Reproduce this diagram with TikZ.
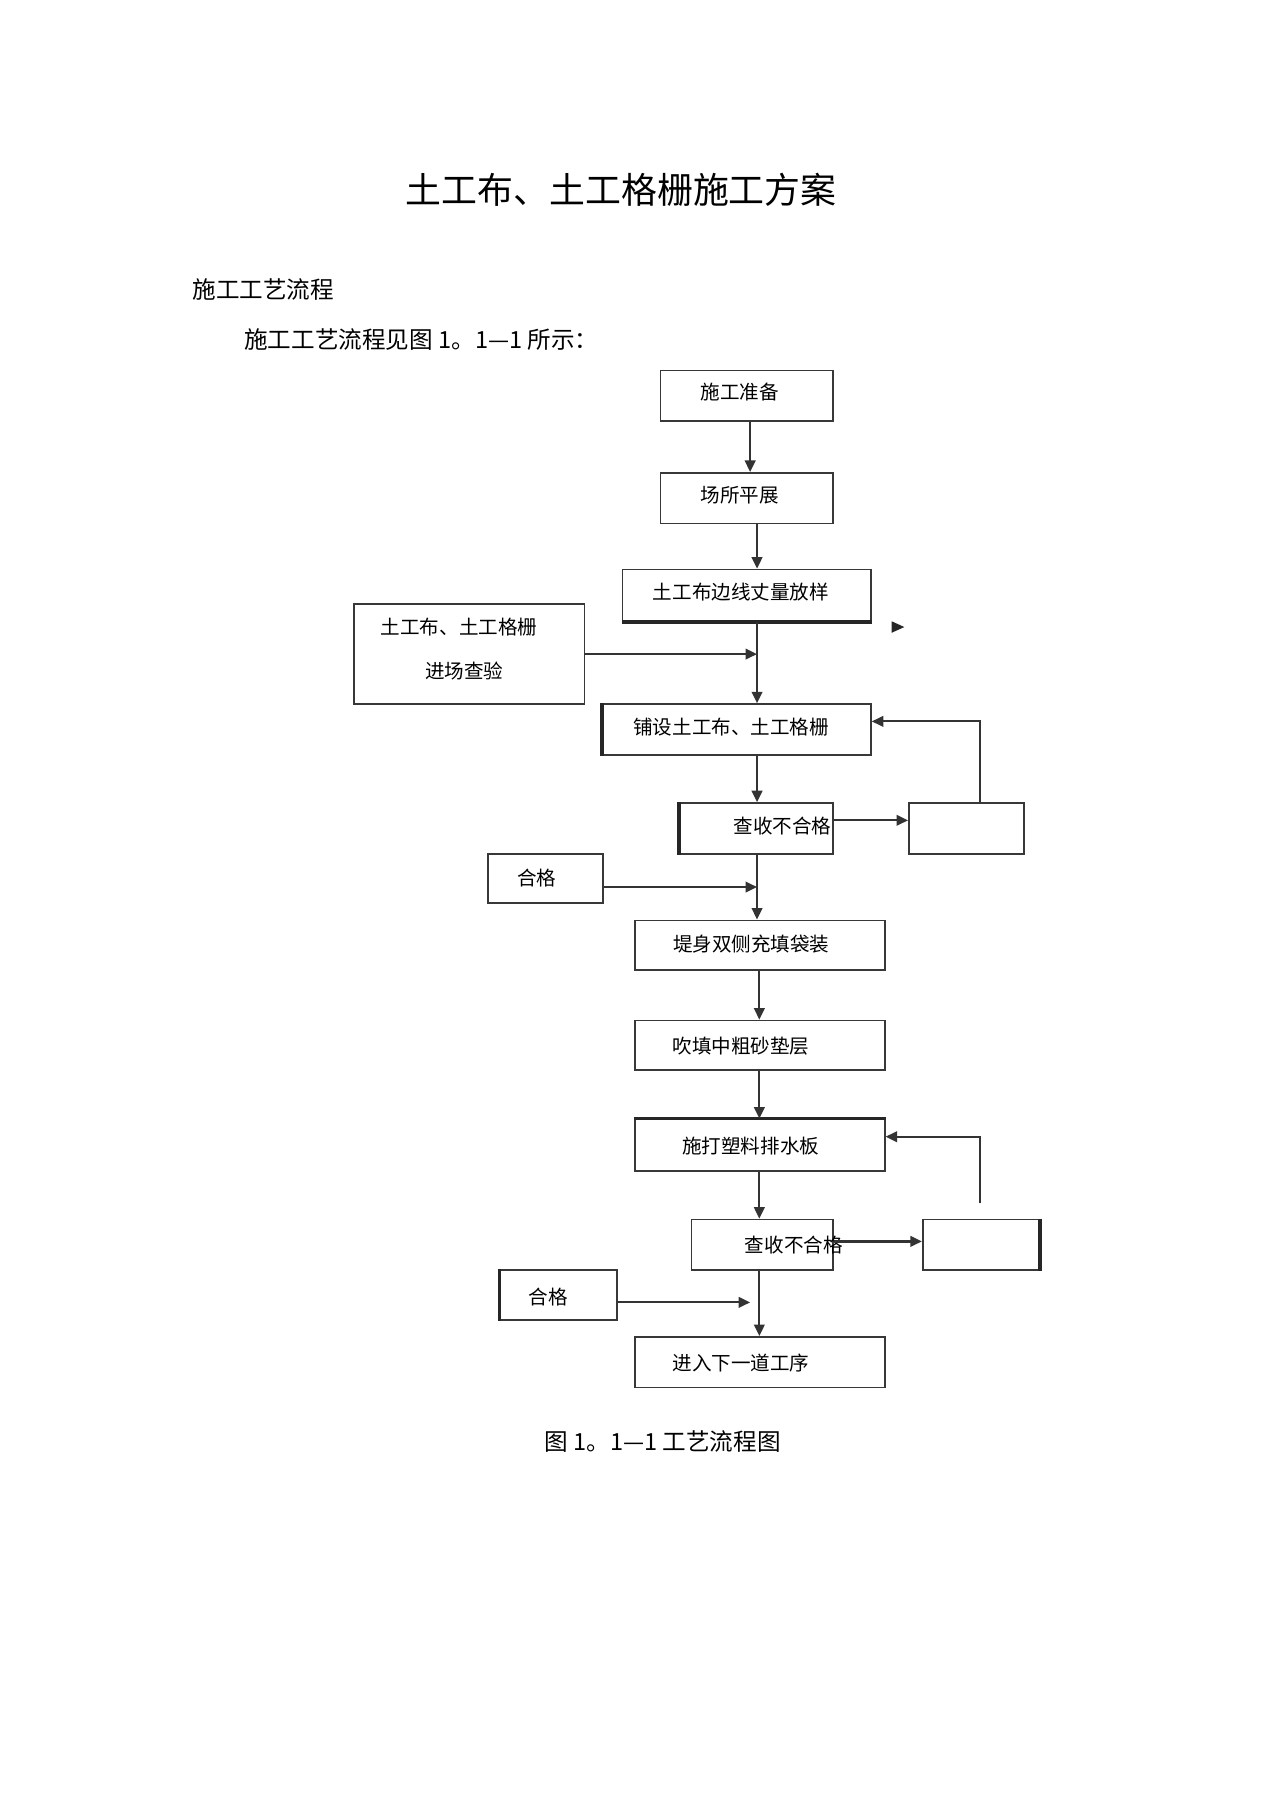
\documentclass[tikz,border=0pt]{standalone}
\usepackage{fontspec}
\setmainfont{Noto Sans CJK SC}
\usetikzlibrary{arrows.meta,calc}
\begin{document}
\begin{tikzpicture}[x=0.5pt,y=-0.5pt,
  fbox/.style={draw=black!78,line width=0.75pt,inner sep=0pt,rectangle},
  btxt/.style={inner sep=0pt,font=\fontsize{8.5}{10}\selectfont},
  arr/.style={draw=black!80,line width=0.95pt,-{Triangle[length=5pt,width=4.6pt]}},
  thk/.style={draw=black!85,line width=1.5pt}]
\useasboundingbox[fill=white] (0,0) rectangle (1107,1568);

% headings
\node[inner sep=0pt,font=\fontsize{15.6}{18}\selectfont] (title) at (540,165) {土工布、土工格栅施工方案};
\node[inner sep=0pt,anchor=west,font=\fontsize{10.25}{12}\selectfont] (head) at (167,252) {施工工艺流程};
\node[inner sep=0pt,anchor=west,font=\fontsize{10.25}{12}\selectfont] (intro) at (212,295) {施工工艺流程见图 1。1—1 所示：};
\node[inner sep=0pt,anchor=west,font=\fontsize{10.25}{12}\selectfont] (cap) at (473,1253) {图 1。1—1 工艺流程图};

% boxes
\node[fbox,minimum width=75pt,minimum height=22pt] (prep) at (649,344) {};
\node[fbox,minimum width=75pt,minimum height=22pt] (site) at (649,433) {};
\node[fbox,minimum width=108pt,minimum height=22.5pt] (stake) at (649,517.5) {};
\node[fbox,minimum width=100pt,minimum height=43.5pt] (check) at (408,568.5) {};
\node[fbox,minimum width=116.5pt,minimum height=22pt] (lay) at (640.5,634) {};
\node[fbox,minimum width=66.5pt,minimum height=22pt] (q1) at (657.5,720) {};
\node[fbox,minimum width=50pt,minimum height=22pt] (r1) at (840,720) {};
\node[fbox,minimum width=50pt,minimum height=21.5pt] (ok1) at (474,763.5) {};
\node[fbox,minimum width=108.5pt,minimum height=21.5pt] (bag) at (660.5,821.5) {};
\node[fbox,minimum width=108.5pt,minimum height=21.5pt] (sand) at (660.5,908.5) {};
\node[fbox,minimum width=108.5pt,minimum height=22.5pt] (drain) at (660.5,995.5) {};
\node[fbox,minimum width=61.5pt,minimum height=22pt] (q2) at (662.5,1082) {};
\node[fbox,minimum width=50.5pt,minimum height=22pt] (r2) at (852.5,1082) {};
\node[fbox,minimum width=50.5pt,minimum height=21.5pt] (ok2) at (485.5,1125.5) {};
\node[fbox,minimum width=108.5pt,minimum height=22pt] (next) at (660.5,1184) {};

% heavier sides
\draw[thk] (q1.north west) -- (q1.south west);
\draw[thk] (drain.north west) -- (drain.north east);
\draw[thk] (ok2.north west) -- (ok2.south west);
\draw[thk] (r2.north east) -- (r2.south east);
\draw[thk] (stake.south west) -- (stake.south east);
\draw[thk] (lay.north west) -- (lay.south west);

% box texts
\node[btxt] (tprep) at (643,341) {施工准备};
\node[btxt] (tsite) at (643,430) {场所平展};
\node[btxt] (tstake) at (644,515) {土工布边线丈量放样};
\node[btxt] (tcheck1) at (399,545) {土工布、土工格栅};
\node[btxt] (tcheck2) at (403.5,583) {进场查验};
\node[btxt] (tlay) at (635.5,632) {铺设土工布、土工格栅};
\node[btxt] (tq1) at (680,718) {查收不合格};
\node[btxt] (tok1) at (466.5,763) {合格};
\node[btxt] (tbag) at (653,821) {堤身双侧充填袋装};
\node[btxt] (tsand) at (644,909) {吹填中粗砂垫层};
\node[btxt] (tdrain) at (652.5,996) {施打塑料排水板};
\node[btxt] (tq2) at (690,1082) {查收不合格};
\node[btxt] (tok2) at (476.5,1127) {合格};
\node[btxt] (tnext) at (644,1185) {进入下一道工序};

% spine coordinates
\coordinate (s1) at (652,0);
\coordinate (s2) at (658,0);
\coordinate (s3) at (660,0);
\coordinate (loopfree) at (852,1046);
\coordinate (okend) at (652,0);

% connectors
\draw[arr] (prep.south -| s1) -- (site.north -| s1);
\draw[arr] (site.south -| s2) -- (stake.north -| s2);
\draw[arr] (stake.south -| s2) -- (lay.north -| s2);
\draw[arr] (check.east) -- (check.east -| s2);
\draw[arr] (lay.south -| s2) -- (q1.north -| s2);
\draw[arr] ([yshift=3.5pt]q1.east) -- ([yshift=3.5pt]r1.west);
\draw[arr] ([xshift=6pt]r1.north) |- ([yshift=3.5pt]lay.east);
\draw[arr] (q1.south -| s2) -- (bag.north -| s2);
\draw[arr] ([yshift=-3.75pt]ok1.east) -- ([yshift=-3.75pt]ok1.east -| s2);
\draw[arr] (bag.south -| s3) -- (sand.north -| s3);
\draw[arr] (sand.south -| s3) -- (drain.north -| s3);
\draw[arr] (drain.south -| s3) -- (q2.north -| s3);
\draw[arr] (loopfree) |- ([yshift=3.75pt]drain.east);
\draw[arr] ([yshift=1.5pt]q2.east) -- ([yshift=1.5pt]r2.west);
\draw[arr] ([yshift=-3.25pt]ok2.east) -- ([yshift=-3.25pt]ok2.east -| okend);
\draw[arr] (q2.south -| s3) -- (next.north -| s3);

% stray arrowhead
\fill[black!85] (775,540) -- (786,545) -- (775,550) -- cycle;
\end{tikzpicture}
\end{document}
